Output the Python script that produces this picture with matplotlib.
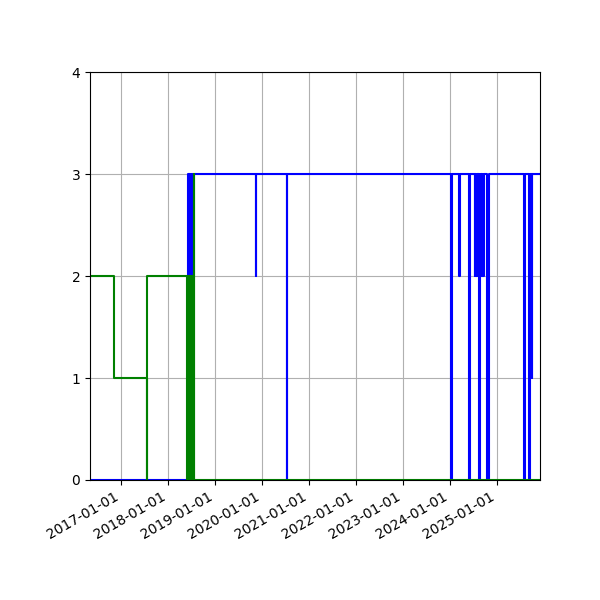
import pandas as pd
import matplotlib
matplotlib.use('Agg')
import matplotlib.pyplot as plt
import matplotlib.dates as mdates

# change points (steps-post): green series
green_dates = ['2016-05-04', '2016-11-10', '2017-07-20', '2017-07-24',
               '2018-05-28', '2018-06-02', '2018-06-07', '2018-06-12', '2018-06-17',
               '2018-06-22', '2018-06-27', '2018-07-02', '2018-07-07', '2018-07-12',
               '2018-07-17', '2018-07-22', '2018-07-25', '2018-07-30', '2025-11-30']
green_vals = [2, 1, 0, 2,
              0, 2, 0, 2, 0,
              2, 0, 2, 0, 2,
              0, 3, 0, 0, 0]

# blue series
blue_dates = ['2016-05-04', '2018-06-06', '2018-06-10', '2018-06-15', '2018-06-19',
              '2018-06-24', '2018-06-28', '2018-07-03', '2018-07-07', '2018-07-14',
              '2019-11-13', '2019-11-17', '2020-07-10', '2020-07-14',
              '2024-01-09', '2024-01-13', '2024-03-12', '2024-03-16',
              '2024-05-30', '2024-06-03',
              '2024-07-10', '2024-07-16', '2024-07-22', '2024-07-28', '2024-08-03',
              '2024-08-09', '2024-08-13', '2024-08-17', '2024-08-23', '2024-08-29',
              '2024-09-04', '2024-09-10', '2024-09-16', '2024-09-22',
              '2024-10-18', '2024-10-27',
              '2025-07-26', '2025-08-02', '2025-09-08', '2025-09-15',
              '2025-09-26', '2025-09-28', '2025-11-30']
blue_vals = [0, 3, 0, 3, 0,
             3, 0, 3, 0, 3,
             2, 3, 0, 3,
             0, 3, 2, 3,
             0, 3,
             2, 3, 2, 3, 2,
             3, 0, 3, 2, 3,
             2, 3, 2, 3,
             0, 3,
             0, 3, 0, 3,
             1, 3, 3]

green_x = pd.to_datetime(green_dates)
blue_x = pd.to_datetime(blue_dates)

fig, ax = plt.subplots(figsize=(6, 6), dpi=100)
ax.plot(blue_x, blue_vals, drawstyle='steps-post', color='blue')
ax.plot(green_x, green_vals, drawstyle='steps-post', color='green')

ax.set_xlim(min(green_x.min(), blue_x.min()), max(green_x.max(), blue_x.max()))
ax.set_ylim(0, 4)
ax.set_yticks([0, 1, 2, 3, 4])
ax.xaxis.set_major_locator(mdates.YearLocator())
ax.xaxis.set_major_formatter(mdates.DateFormatter('%Y-%m-%d'))
ax.grid(True)

fig.autofmt_xdate()
plt.subplots_adjust(left=0.15, right=0.9, top=0.88, bottom=0.2)
plt.savefig('out.png', dpi=100)
